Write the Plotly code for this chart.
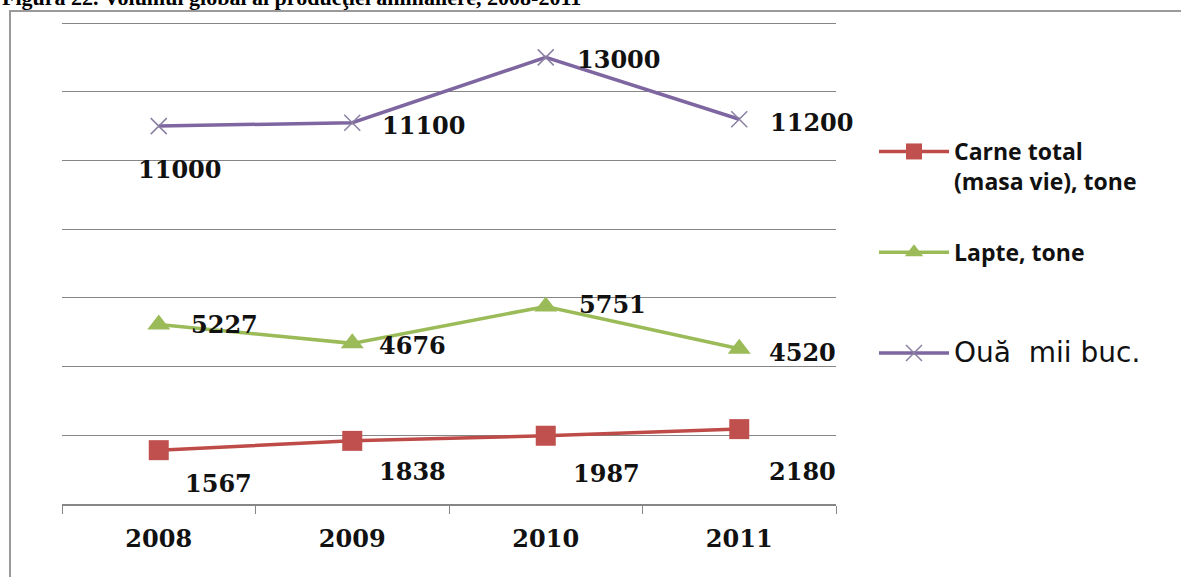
import plotly.graph_objects as go

years = ["2008", "2009", "2010", "2011"]
carne = [1567, 1838, 1987, 2180]
lapte = [5227, 4676, 5751, 4520]
oua = [11000, 11100, 13000, 11200]

names = [
    "<b>Carne total</b><br><b>(masa vie), tone</b>",
    "<b>Lapte, tone</b><br> ",
    "<span style=\"font-family:'DejaVu Sans';font-weight:normal;font-size:28px\">Ouă  mii buc.</span><br> ",
]

# label offsets in pixels (layout only)
carne_shift = [(60, -33), (60, -31), (61, -38), (63, -42)]
lapte_shift = [(66, 0), (60, -2), (67, 2), (63, -4)]
oua_shift = [(21, -43), (72, -3), (73, -2), (73, -3)]

W, H = 1181, 577
L, R, T, B = 62, 345, 22, 73
pw, ph = W - L - R, H - T - B

fig = go.Figure()
fig.add_trace(go.Scatter(
    x=years, y=carne, name=names[0], mode="lines+markers", legendgroup="a",
    line=dict(color="#BE4B48", width=3.5),
    marker=dict(symbol="square", size=20, color="#C0504D", line=dict(width=0)),
))
fig.add_trace(go.Scatter(
    x=years, y=lapte, name=names[1], mode="lines+markers", legendgroup="b",
    line=dict(color="#9BBB59", width=3.5),
    marker=dict(symbol="triangle-up", size=20, color="#9BBB59", line=dict(width=0)),
))
fig.add_trace(go.Scatter(
    x=years, y=oua, name=names[2], mode="lines+markers", legendgroup="c",
    line=dict(color="#7E66A0", width=3.5),
    marker=dict(symbol="x-thin", size=16, color="#8A7FA0", line=dict(width=1.5, color="#8A7FA0")),
))

lab_font = dict(family="DejaVu Serif", size=24, color="#111111", weight="bold")
for vals, shifts in ((carne, carne_shift), (lapte, lapte_shift), (oua, oua_shift)):
    for i, (v, (dx, dy)) in enumerate(zip(vals, shifts)):
        fig.add_annotation(x=i, y=v, xref="x", yref="y", text=str(v), showarrow=False,
                           xshift=dx, yshift=dy, font=lab_font,
                           xanchor="center", yanchor="middle")

# title (partly cut at top of image)
fig.add_annotation(xref="paper", yref="paper", x=(0 - L) / pw, y=1 + (T + 2) / ph,
                   text="<b>Figura 22. Volumul global al producţiei animaliere, 2008-2011</b>",
                   showarrow=False, xanchor="left", yanchor="middle",
                   font=dict(family="Liberation Serif", size=22, color="#000000"))

# outer chart frame
fig.add_shape(type="rect", xref="paper", yref="paper",
              x0=(10 - L) / pw, x1=(W + 20 - L) / pw,
              y0=-(H + 20 - (H - B)) / ph, y1=1 + (T - 11) / ph,
              line=dict(color="#9A9A9A", width=2), layer="below")

fig.update_layout(
    width=W, height=H,
    margin=dict(l=L, r=R, t=T, b=B),
    paper_bgcolor="white", plot_bgcolor="white",
    showlegend=True,
    legend=dict(x=(874 - L) / pw, y=1 - (130 - T) / ph, xanchor="left", yanchor="top",
                font=dict(family="Open Sans", size=23, color="#111111"),
                traceorder="grouped", tracegroupgap=38, valign="top",
                itemwidth=70, bgcolor="rgba(0,0,0,0)"),
    xaxis=dict(type="category", range=[-0.5, 3.5], showgrid=False,
               showline=True, linecolor="#868686", linewidth=1.5,
               ticks="outside", ticklen=8, tickcolor="#868686", tickson="boundaries",
               tickfont=dict(family="DejaVu Serif", size=24, color="#111111", weight="bold"),
               ticklabelstandoff=12, zeroline=False),
    yaxis=dict(range=[0, 14030], tickvals=[2000, 4000, 6000, 8000, 10000, 12000, 14000],
               showgrid=True, gridcolor="#868686",
               gridwidth=1, showticklabels=False, zeroline=False, showline=False),
)

fig.write_html("out.html", config={"displayModeBar": False},
               post_script="document.body.style.margin='0';document.body.style.overflow='hidden';")
